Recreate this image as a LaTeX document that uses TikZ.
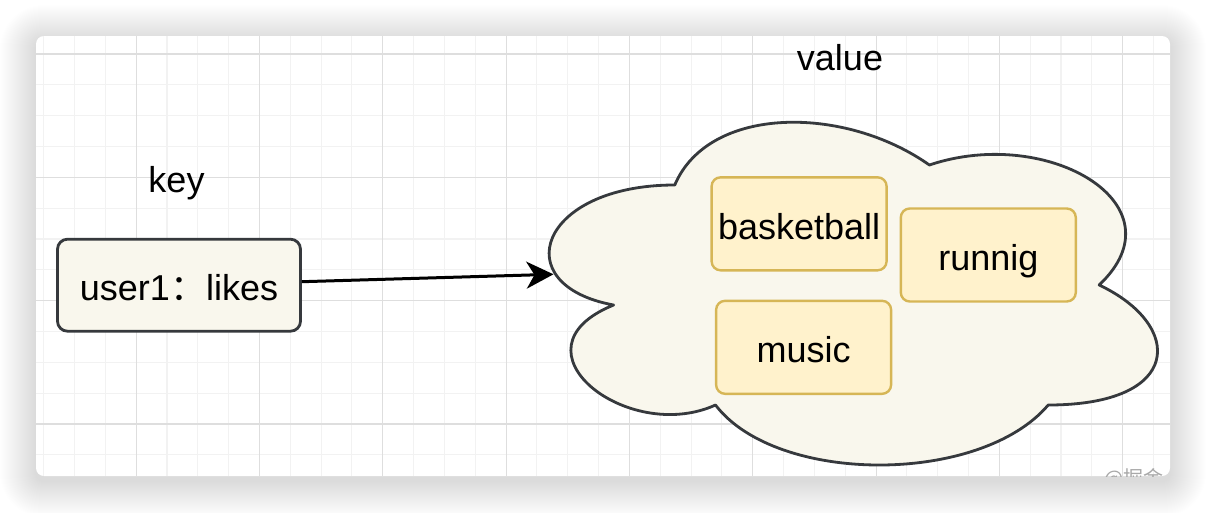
\documentclass[tikz,border=0pt]{standalone}
\usepackage{fontspec}
\setmainfont{Liberation Sans}
\newfontfamily\cjk{Noto Sans CJK SC}
\usetikzlibrary{arrows.meta}

\definecolor{shapeline}{HTML}{36393D}
\definecolor{shapefill}{HTML}{F9F7ED}
\definecolor{itemline}{HTML}{D6B656}
\definecolor{itemfill}{HTML}{FFF2CC}
\definecolor{gridminor}{HTML}{F2F2F2}
\definecolor{gridmajor}{HTML}{DEDEDE}
\definecolor{markgray}{HTML}{A8A8A8}

\tikzset{
  bigtext/.style={font=\fontsize{36}{43}\selectfont},
  keybox/.style={bigtext, draw=shapeline, fill=shapefill, line width=2.8pt,
    rounded corners=10pt, minimum width=243pt, minimum height=92pt,
    inner sep=0pt, text height=38pt, text depth=7pt},
  itembox/.style={bigtext, draw=itemline, fill=itemfill, line width=2.4pt,
    rounded corners=9pt, minimum width=175pt, minimum height=93pt,
    inner sep=0pt, text height=38pt, text depth=7pt},
  cloudshape/.style={draw=shapeline, fill=shapefill, line width=2.8pt, line join=round},
  caption/.style={bigtext, inner sep=0pt, anchor=base},
  link/.style={line width=3pt, draw=black,
    -{Stealth[length=27pt, width=27pt, inset=8pt]}},
  minorline/.style={draw=gridminor, line width=1.1pt},
  majorline/.style={draw=gridmajor, line width=1.1pt},
}

\begin{document}
\begin{tikzpicture}[x=1pt, y=-1pt]
\useasboundingbox (0,0) rectangle (1206,512);
\fill[white] (0,0) rectangle (1206,512);

% soft drop shadow under the page card
\foreach \i in {1,...,36}{
  \fill[black, opacity=0.0045, rounded corners={8pt+\i pt}]
    ({36-\i}, {41-\i}) rectangle ({1170+\i}, {481+\i});
}

% page card
\fill[white, rounded corners=8pt] (36,36) rectangle (1170,476);

\begin{scope}
  \clip[rounded corners=8pt] (36,36) rectangle (1170,476);
  % grid
  \foreach \i in {1,...,37}{
    \draw[minorline] ({12.8+30.83*\i}, 36) -- ({12.8+30.83*\i}, 476);
  }
  \foreach \j in {1,...,14}{
    \draw[minorline] (36, {23.2+30.83*\j}) -- (1170, {23.2+30.83*\j});
  }
  \foreach \k in {0,...,8}{
    \draw[majorline] ({136.1+123.33*\k}, 36) -- ({136.1+123.33*\k}, 476);
  }
  \foreach \k in {0,...,3}{
    \draw[majorline] (36, {54+123.33*\k}) -- (1170, {54+123.33*\k});
  }
  % site mark in the corner
  \node[anchor=base west, inner sep=0pt, text=markgray,
        font=\cjk\fontsize{20}{24}\selectfont] (mark) at (1104,485) {@掘金};
\end{scope}

% cloud holding the value set
\draw[cloudshape]
  (674.75,185) .. controls (538.95,185) and (505,285) .. (613.64,305)
  .. controls (505,349) and (627.22,445) .. (715.49,405)
  .. controls (776.6,485) and (980.3,485) .. (1048.2,405)
  .. controls (1184,405) and (1184,325) .. (1099.13,285)
  .. controls (1184,205) and (1048.2,125) .. (929.38,165)
  .. controls (844.5,105) and (708.7,105) .. (674.75,185) -- cycle;
\coordinate (cloudin) at (553.5,274.3);

% labels
\node[caption] (keylabel) at (176.5,192) {key};
\node[caption] (valuelabel) at (840,70) {value};

% key
\node[keybox] (key) at (179,285.2) {user1{\cjk ：}likes};

% members of the set
\node[itembox] (basketball) at (799.1,223.8) {basketball};
\node[itembox] (runnig) at (988.3,255) {runnig};
\node[itembox] (music) at (803.6,347.3) {music};

% key points to its value
\draw[link] ([yshift=3.5pt]key.east) -- (cloudin);
\end{tikzpicture}
\end{document}
